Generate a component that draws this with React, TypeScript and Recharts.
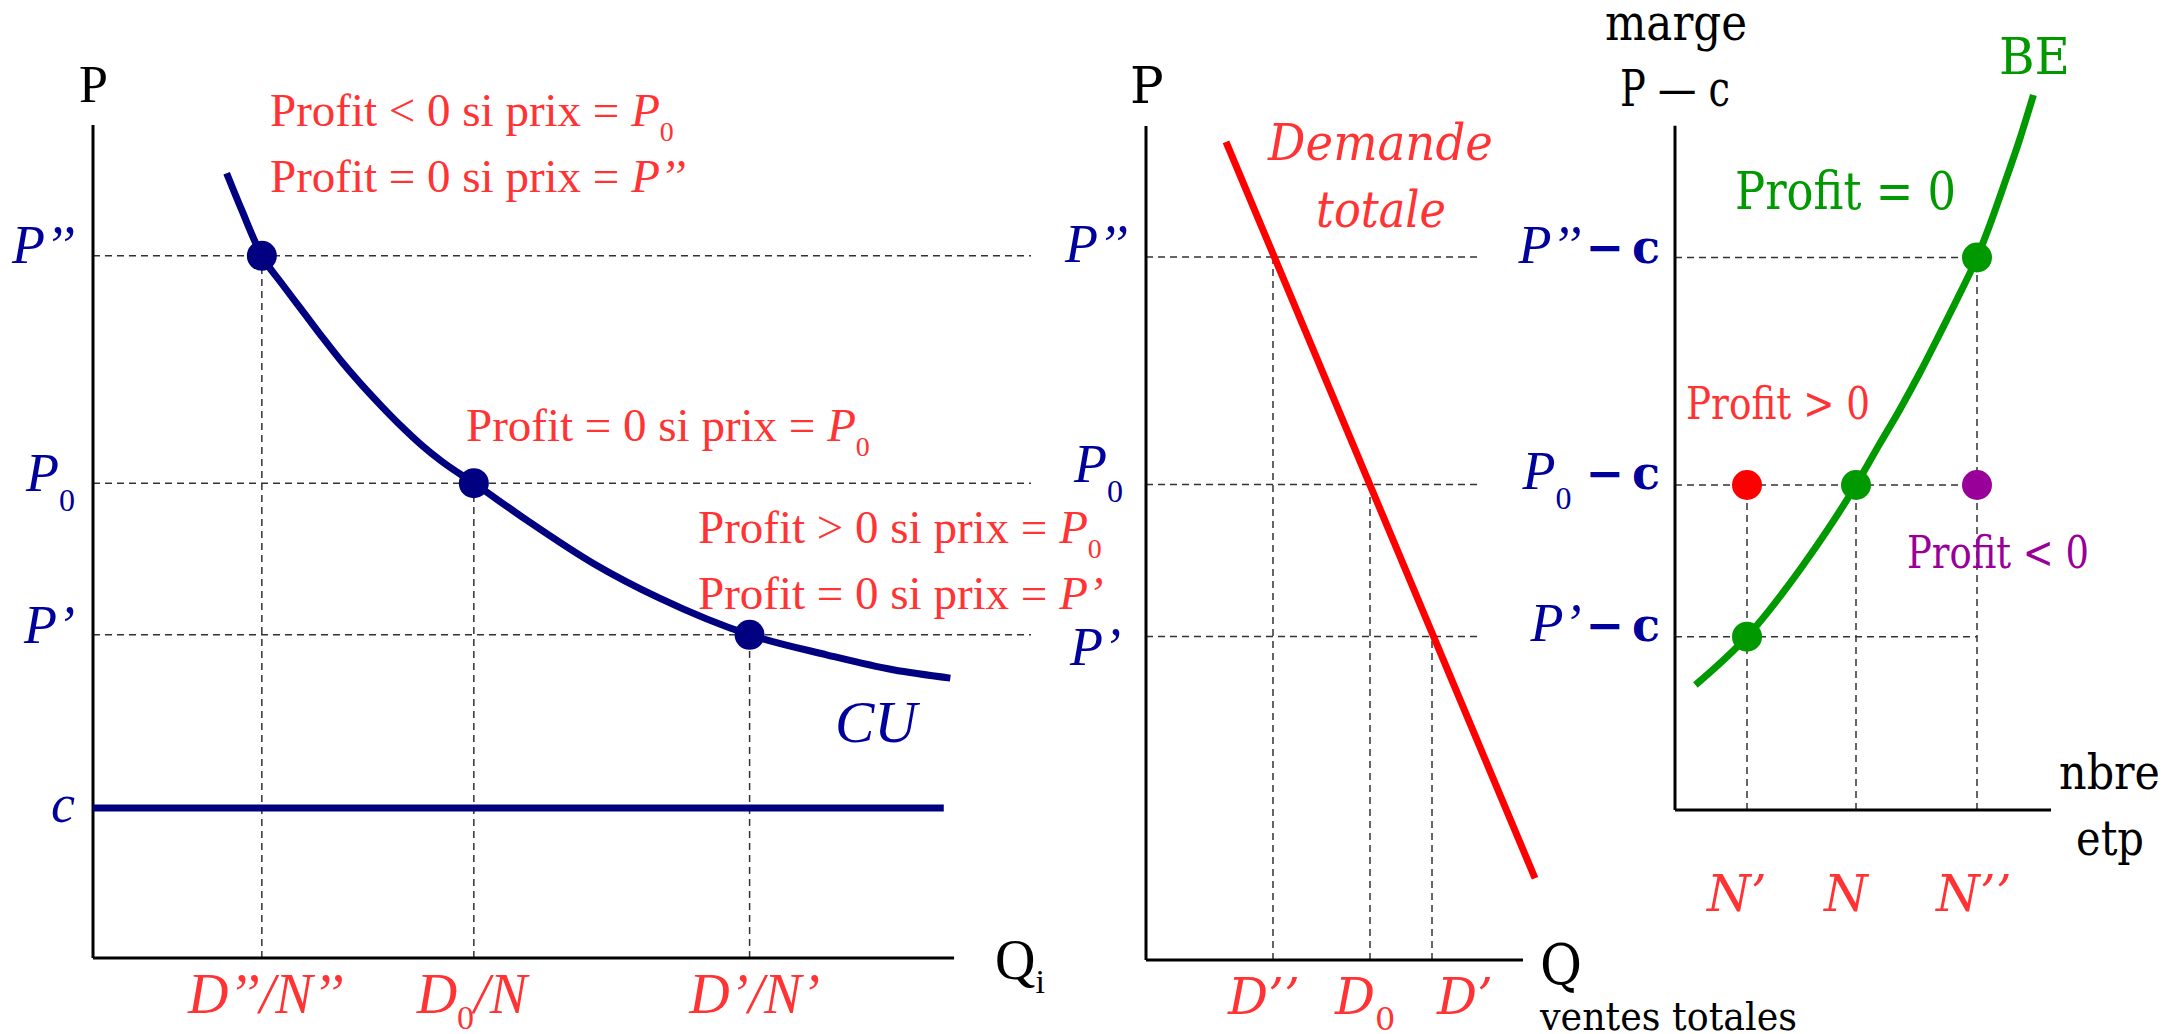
import React from "react";
import { ComposedChart, Line, Scatter, XAxis, YAxis, ReferenceLine } from "recharts";

// prix, même échelle dans les trois graphiques : P'', P0, P'
const prices = [84.3, 57, 38.8];
const priceLabels = ["P’’", "P_0", "P’"];
const unitCost = 18;

// graphique 1 : coût unitaire par entreprise
const perFirmQty = [18, 40.6, 70];
const perFirmLabels = ["D’’/N’’", "D_0_/N", "D’/N’"];
const cuQ = [14.25, 15.85, 18, 20.1, 22.25, 24.4, 26.5, 28.65, 30.8, 32.9, 35, 37.2, 40.6, 46.2, 53.3, 60.4, 70, 78.2, 85.3, 91.4];
const cuValues = [94.2, 89.8, 84.3, 81.0, 77.8, 74.6, 71.6, 68.8, 66.2, 63.8, 61.6, 59.6, 57, 52.6, 47.4, 43.2, 38.8, 36.4, 34.6, 33.6];

// graphique 2 : demande totale
const demandQ = [20, 97.25];
const demandP = [98.1, 9.8];
const totalSales = [31.75, 56, 71.5];
const salesLabels = ["D’’", "D_0", "D’"];

// graphique 3 : nombre d'entreprises (BE)
const firmCounts = [18, 45.25, 75.5];
const firmLabels = ["N’", "N", "N’’"];
const beN = [5.1, 18, 31.75, 45.25, 51.25, 56.25, 61.25, 66.25, 71.25, 75.5, 79, 82.1, 86.25, 89.6];
const beMargin = [15, 20.8, 29.2, 39, 44, 48.1, 52.5, 57.2, 62, 66.3, 70.6, 74.8, 80.6, 85.8];

const margins = prices.map((p) => +(p - unitCost).toFixed(1));

const NAVY = "#000080";
const BLUE = "#00009C";
const RED_TXT = "#FF3333";
const GREEN = "#009900";
const PURPLE = "#990099";
const DASH = "#333333";
const TIMES = "'Liberation Serif', 'Times New Roman', serif";
const SCHOOL = "'DejaVu Serif', 'Liberation Serif', serif";

const cuData = cuQ.map((x, i) => ({ x, y: cuValues[i] }));
const cuDots = perFirmQty.map((x, i) => ({ x, y: prices[i] }));
const demandData = demandQ.map((x, i) => ({ x, y: demandP[i] }));
const beData = beN.map((x, i) => ({ x, y: beMargin[i] }));
// points sur BE : N' avec P'-c, N avec P0-c, N'' avec P''-c
const beDots = [
  { x: firmCounts[0], y: margins[2] },
  { x: firmCounts[1], y: margins[1] },
  { x: firmCounts[2], y: margins[0] },
];
const profitPlus = [{ x: firmCounts[0], y: margins[1] }];
const profitMinus = [{ x: firmCounts[2], y: margins[1] }];

// texte avec indices : "P_0" -> P + indice 0
function rich(label: string, subSize: number, subDy: number) {
  const parts = label.split("_");
  return parts.map((p, i) => {
    if (!p) return null;
    if (i % 2 === 1)
      return (
        <tspan key={i} fontSize={subSize} dy={subDy} fontStyle="normal">
          {p}
        </tspan>
      );
    return (
      <tspan key={i} dy={i > 0 ? -subDy : 0}>
        {p}
      </tspan>
    );
  });
}

const dot = (color: string) => (props: any) =>
  <circle cx={props.cx} cy={props.cy} r={15} fill={color} />;

const axisLine = { stroke: "#000", strokeWidth: 3 };
const dashLine = { stroke: DASH, strokeWidth: 1.5, strokeDasharray: "7 5" };

// ---- ticks ----
const p1Y = [...prices, unitCost];
const p1YLabels = [...priceLabels, "c"];
const p1YDy = [7, 8, 8, 14];
function P1YTick(props: any) {
  const i = p1Y.indexOf(props.payload.value);
  return (
    <text x={props.x - 18} y={props.y + p1YDy[i]} textAnchor="end" fontFamily={TIMES}
      fontStyle="italic" fontSize={54} fill={BLUE}>
      {rich(p1YLabels[i], 32, 20)}
    </text>
  );
}
const p1XDx = [4, -2, 5];
function P1XTick(props: any) {
  const i = perFirmQty.indexOf(props.payload.value);
  return (
    <text x={props.x + p1XDx[i]} y={props.y + 55} textAnchor="middle" fontFamily={TIMES}
      fontStyle="italic" fontSize={56} fill={RED_TXT}>
      {rich(perFirmLabels[i], 34, 16)}
    </text>
  );
}
const p2YDx = [-18, -23, -25];
const p2YDy = [5, -3, 29];
function P2YTick(props: any) {
  const i = prices.indexOf(props.payload.value);
  return (
    <text x={props.x + p2YDx[i]} y={props.y + p2YDy[i]} textAnchor="end" fontFamily={TIMES}
      fontStyle="italic" fontSize={54} fill={BLUE}>
      {rich(priceLabels[i], 32, 20)}
    </text>
  );
}
const p2XDx = [-45, -35, 5];
function P2XTick(props: any) {
  const i = totalSales.indexOf(props.payload.value);
  return (
    <text x={props.x + p2XDx[i]} y={props.y + 54} fontFamily={SCHOOL}
      fontStyle="italic" fontSize={50} fill={RED_TXT}>
      {rich(salesLabels[i], 32, 16)}
    </text>
  );
}
const p3YDy = [5, 4, 4];
function P3YTick(props: any) {
  const i = margins.indexOf(props.payload.value);
  const hasSub = priceLabels[i].includes("_0");
  return (
    <text x={props.x - 15} y={props.y + p3YDy[i]} textAnchor="end" fill={BLUE} fontSize={54}>
      <tspan fontFamily={TIMES} fontStyle="italic">{priceLabels[i].replace("_0", "")}</tspan>
      {hasSub && (
        <tspan fontFamily={TIMES} fontSize={32} dy={20}>0</tspan>
      )}
      <tspan fontFamily={SCHOOL} fontWeight="bold" fontSize={46} dx={hasSub ? 14 : 4}
        dy={hasSub ? -20 : 0}>−</tspan>
      <tspan fontFamily={SCHOOL} fontWeight="bold" fontSize={46} dx={8}>c</tspan>
    </text>
  );
}
const p3XDx = [-40, -32, -41];
function P3XTick(props: any) {
  const i = firmCounts.indexOf(props.payload.value);
  return (
    <text x={props.x + p3XDx[i]} y={props.y + 101} fontFamily={SCHOOL}
      fontStyle="italic" fontSize={50} fill={RED_TXT}>
      {firmLabels[i]}
    </text>
  );
}

const axisCommon = { axisLine: false, tickLine: false, tickSize: 0, tickMargin: 0, interval: 0 as const, allowDataOverflow: true };

function CostPanel() {
  return (
    <ComposedChart width={1050} height={1034} margin={{ top: 125, right: 19, bottom: 0, left: 0 }}>
      <XAxis type="number" dataKey="x" domain={[0, 100]} ticks={perFirmQty} height={76} tick={P1XTick} {...axisCommon} />
      <YAxis type="number" dataKey="y" domain={[0, 100]} ticks={p1Y} width={93} tick={P1YTick} {...axisCommon} />
      {prices.map((p) => (
        <ReferenceLine key={"h" + p} segment={[{ x: 0, y: p }, { x: 100, y: p }]} {...dashLine} />
      ))}
      {perFirmQty.map((q, i) => (
        <ReferenceLine key={"v" + q} segment={[{ x: q, y: 0 }, { x: q, y: prices[i] }]} {...dashLine} />
      ))}
      <ReferenceLine segment={[{ x: 0, y: 0 }, { x: 0, y: 100 }]} {...axisLine} />
      <ReferenceLine segment={[{ x: 0, y: 0 }, { x: 91.8, y: 0 }]} {...axisLine} />
      <ReferenceLine segment={[{ x: 0, y: unitCost }, { x: 90.7, y: unitCost }]} stroke={NAVY} strokeWidth={7} />
      <Line data={cuData} dataKey="y" type="monotone" stroke={NAVY} strokeWidth={7} dot={false} isAnimationActive={false} />
      <Scatter data={cuDots} dataKey="y" shape={dot(NAVY)} isAnimationActive={false} />
    </ComposedChart>
  );
}

function DemandPanel() {
  return (
    <ComposedChart width={520} height={1034} margin={{ top: 126, right: 24, bottom: 0, left: 0 }}>
      <XAxis type="number" dataKey="x" domain={[0, 100]} ticks={totalSales} height={74} tick={P2XTick} {...axisCommon} />
      <YAxis type="number" dataKey="y" domain={[0, 100]} ticks={prices} width={96} tick={P2YTick} {...axisCommon} />
      {prices.map((p) => (
        <ReferenceLine key={"h" + p} segment={[{ x: 0, y: p }, { x: 83.25, y: p }]} {...dashLine} />
      ))}
      {totalSales.map((q, i) => (
        <ReferenceLine key={"v" + q} segment={[{ x: q, y: 0 }, { x: q, y: prices[i] }]} {...dashLine} />
      ))}
      <ReferenceLine segment={[{ x: 0, y: 0 }, { x: 0, y: 100 }]} {...axisLine} />
      <ReferenceLine segment={[{ x: 0, y: 0 }, { x: 94.25, y: 0 }]} {...axisLine} />
      <Line data={demandData} dataKey="y" type="linear" stroke="#FF0000" strokeWidth={7} dot={false} isAnimationActive={false} />
    </ComposedChart>
  );
}

function FirmsPanel() {
  return (
    <ComposedChart width={676} height={1034} margin={{ top: 60, right: 101, bottom: 0, left: 0 }}>
      <XAxis type="number" dataKey="x" domain={[0, 100]} ticks={firmCounts} height={224} tick={P3XTick} {...axisCommon} />
      <YAxis type="number" dataKey="y" domain={[0, 90]} ticks={margins} width={175} tick={P3YTick} {...axisCommon} />
      {margins.map((m) => (
        <ReferenceLine key={"h" + m} segment={[{ x: 0, y: m }, { x: firmCounts[2], y: m }]} {...dashLine} />
      ))}
      <ReferenceLine segment={[{ x: firmCounts[0], y: 0 }, { x: firmCounts[0], y: margins[1] }]} {...dashLine} />
      <ReferenceLine segment={[{ x: firmCounts[1], y: 0 }, { x: firmCounts[1], y: margins[1] }]} {...dashLine} />
      <ReferenceLine segment={[{ x: firmCounts[2], y: 0 }, { x: firmCounts[2], y: margins[0] }]} {...dashLine} />
      <ReferenceLine segment={[{ x: 0, y: 0 }, { x: 0, y: 82.1 }]} {...axisLine} />
      <ReferenceLine segment={[{ x: 0, y: 0 }, { x: 94, y: 0 }]} {...axisLine} />
      <Line data={beData} dataKey="y" type="monotone" stroke={GREEN} strokeWidth={7} dot={false} isAnimationActive={false} />
      <Scatter data={beDots} dataKey="y" shape={dot(GREEN)} isAnimationActive={false} />
      <Scatter data={profitPlus} dataKey="y" shape={dot("#FF0000")} isAnimationActive={false} />
      <Scatter data={profitMinus} dataKey="y" shape={dot(PURPLE)} isAnimationActive={false} />
    </ComposedChart>
  );
}

function Note({ x, y, pre, p, sub }: { x: number; y: number; pre: string; p: string; sub?: string }) {
  return (
    <text x={x} y={y} fontFamily={TIMES} fontSize={47} fill={RED_TXT}>
      {pre}
      <tspan fontStyle="italic">{p}</tspan>
      {sub && <tspan fontSize={28} dy={15}>{sub}</tspan>}
    </text>
  );
}

function Annotations() {
  return (
    <svg width={2176} height={1034} style={{ position: "absolute", left: 0, top: 0, pointerEvents: "none" }}>
      {/* graphique 1 */}
      <text x={79} y={102} fontFamily={TIMES} fontSize={52}>P</text>
      <text x={995} y={979} fontFamily={TIMES} fontSize={56}>
        Q<tspan fontSize={34} dy={14}>i</tspan>
      </text>
      <Note x={270} y={126} pre="Profit < 0 si prix = " p="P" sub="0" />
      <Note x={270} y={192} pre="Profit = 0 si prix = " p="P’’" />
      <Note x={466} y={441} pre="Profit = 0 si prix = " p="P" sub="0" />
      <Note x={698} y={543} pre="Profit > 0 si prix = " p="P" sub="0" />
      <Note x={698} y={609} pre="Profit = 0 si prix = " p="P’" />
      <text x={835} y={742} fontFamily={TIMES} fontStyle="italic" fontSize={59} fill={BLUE}>CU</text>

      {/* graphique 2 */}
      <text x={1130} y={103} fontFamily={SCHOOL} fontSize={50}>P</text>
      <text x={1268} y={160} fontFamily={SCHOOL} fontStyle="italic" fontSize={50} fill={RED_TXT}
        textLength={225} lengthAdjust="spacingAndGlyphs">Demande</text>
      <text x={1316} y={227} fontFamily={SCHOOL} fontStyle="italic" fontSize={50} fill={RED_TXT}
        textLength={130} lengthAdjust="spacingAndGlyphs">totale</text>
      <text x={1540} y={984} fontFamily={SCHOOL} fontSize={56} textLength={42} lengthAdjust="spacingAndGlyphs">Q</text>
      <text x={1540} y={1030} fontFamily={SCHOOL} fontSize={40} textLength={257} lengthAdjust="spacingAndGlyphs">ventes totales</text>

      {/* graphique 3 */}
      <text x={1605} y={40} fontFamily={SCHOOL} fontSize={50} textLength={142} lengthAdjust="spacingAndGlyphs">marge</text>
      <text x={1620} y={106} fontFamily={SCHOOL} fontSize={50} textLength={110} lengthAdjust="spacingAndGlyphs">P — c</text>
      <text x={1999} y={74} fontFamily={SCHOOL} fontSize={50} fill={GREEN} textLength={71} lengthAdjust="spacingAndGlyphs">BE</text>
      <text x={1735} y={209} fontFamily={SCHOOL} fontSize={52} fill={GREEN} textLength={221} lengthAdjust="spacingAndGlyphs">Profit = 0</text>
      <text x={1686} y={419} fontFamily={SCHOOL} fontSize={44} fill={RED_TXT} textLength={184} lengthAdjust="spacingAndGlyphs">Profit &gt; 0</text>
      <text x={1907} y={568} fontFamily={SCHOOL} fontSize={44} fill={PURPLE} textLength={182} lengthAdjust="spacingAndGlyphs">Profit &lt; 0</text>
      <text x={2059} y={789} fontFamily={SCHOOL} fontSize={48} textLength={101} lengthAdjust="spacingAndGlyphs">nbre</text>
      <text x={2076} y={855} fontFamily={SCHOOL} fontSize={48} textLength={68} lengthAdjust="spacingAndGlyphs">etp</text>
    </svg>
  );
}

export default function App() {
  return (
    <div style={{ position: "absolute", left: 0, top: 0, width: 2176, height: 1034, background: "#fff", overflow: "hidden" }}>
      <div style={{ position: "absolute", left: 0, top: 0 }}>
        <CostPanel />
      </div>
      <div style={{ position: "absolute", left: 1050, top: 0 }}>
        <DemandPanel />
      </div>
      <div style={{ position: "absolute", left: 1500, top: 0 }}>
        <FirmsPanel />
      </div>
      <Annotations />
    </div>
  );
}
